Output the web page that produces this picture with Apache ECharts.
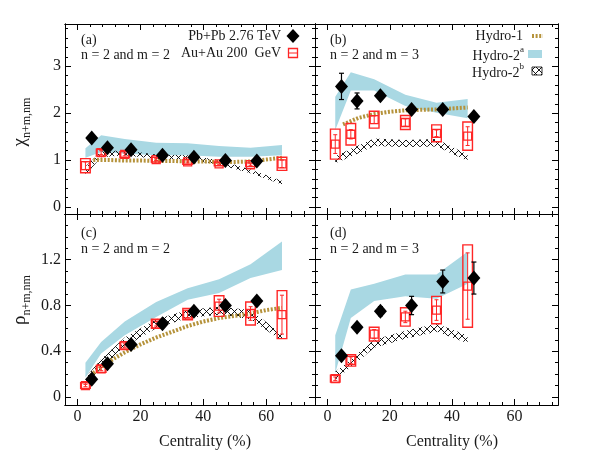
<!DOCTYPE html>
<html><head><meta charset="utf-8">
<script src="https://cdn.jsdelivr.net/npm/echarts@6/dist/echarts.min.js"></script>
<style>html,body{margin:0;padding:0;background:#fff}#c{width:600px;height:465px}</style>
</head><body><div id="c"></div>
<script>
// ---------- tick labels ----------
const xMajor = [0, 20, 40, 60];
const xMinor = [4, 8, 12, 16, 24, 28, 32, 36, 44, 48, 52, 56, 64, 68, 72];
const yMajorTop = [0, 1, 2, 3];
const yMinorTop = [0.2, 0.4, 0.6, 0.8, 1.2, 1.4, 1.6, 1.8, 2.2, 2.4, 2.6, 2.8, 3.2, 3.4, 3.6, 3.8];
const yMajorBot = [0, 0.4, 0.8, 1.2];
const yMinorBot = [0.1, 0.2, 0.3, 0.5, 0.6, 0.7, 0.9, 1.0, 1.1, 1.3, 1.4, 1.5];

// ---------- centralities ----------
const centRed8 = [2.5, 7.5, 15, 25, 35, 45, 55, 65];
const centBlack7 = [4.5, 9.5, 17, 27, 37, 47, 57];
const centRed6 = [2.5, 7.5, 15, 25, 35, 45];
const centBlack6 = [4.5, 9.5, 17, 27, 37, 47];
const hydro1X13 = [5, 10, 15, 20, 25, 30, 35, 40, 45, 50, 55, 60, 65];
const hydro1X9 = [5, 10, 15, 20, 25, 30, 35, 40, 45];

// ---------- panel (a) ----------
const aBlack = [1.47, 1.26, 1.22, 1.10, 1.06, 0.99, 0.98];
const aBlackErr = [0.02, 0.02, 0.02, 0.02, 0.02, 0.02, 0.02];
const aRed = [0.88, 1.16, 1.12, 1.01, 0.96, 0.92, 0.90, 0.92];
const aRedSys = [0.15, 0.07, 0.06, 0.05, 0.05, 0.04, 0.04, 0.14];
const aRedStat = [0.08, 0.04, 0.03, 0.02, 0.02, 0.02, 0.02, 0.08];
const aHydro1 = [1.0, 1.0, 0.99, 0.99, 0.98, 0.98, 0.97, 0.97, 0.96, 0.96, 0.97, 1.01, 1.05];
const aHydro2aLow = [1.05, 1.17, 1.14, 1.10, 1.10, 1.07, 1.07, 1.10];
const aHydro2aHigh = [1.25, 1.53, 1.45, 1.37, 1.36, 1.30, 1.26, 1.32];
const aHydro2bLow = [0.68, 1.06, 1.10, 1.02, 1.01, 0.90, 0.72, 0.48];
const aHydro2bHigh = [0.86, 1.18, 1.21, 1.12, 1.10, 1.00, 0.80, 0.56];

// ---------- panel (b) ----------
const bBlack = [2.57, 2.26, 2.37, 2.08, 2.08, 1.93];
const bBlackErr = [0.28, 0.17, 0.05, 0.05, 0.04, 0.05];
const bRed = [1.34, 1.55, 1.86, 1.80, 1.57, 1.51];
const bRedSys = [0.32, 0.23, 0.18, 0.15, 0.18, 0.30];
const bRedStat = [0.20, 0.10, 0.08, 0.08, 0.07, 0.20];
const bHydro1 = [1.76, 1.90, 1.98, 2.03, 2.06, 2.07, 2.08, 2.10, 2.12];
const bHydro2aLow = [1.64, 2.48, 2.48, 2.15, 2.01, 1.89];
const bHydro2aHigh = [2.35, 2.87, 2.72, 2.39, 2.22, 2.30];
const bHydro2bLow = [0.93, 1.07, 1.30, 1.28, 1.29, 0.98];
const bHydro2bHigh = [1.08, 1.24, 1.46, 1.43, 1.45, 1.12];

// ---------- panel (c) ----------
const cBlack = [0.155, 0.29, 0.46, 0.64, 0.75, 0.80, 0.84];
const cBlackErr = [0.01, 0.01, 0.01, 0.01, 0.01, 0.01, 0.01];
const cRed = [0.10, 0.245, 0.45, 0.64, 0.725, 0.795, 0.73, 0.72];
const cRedSys = [0.025, 0.03, 0.03, 0.04, 0.05, 0.09, 0.10, 0.21];
const cRedStat = [0.01, 0.015, 0.015, 0.02, 0.03, 0.06, 0.06, 0.17];
const cHydro1 = [0.21, 0.31, 0.39, 0.46, 0.52, 0.57, 0.62, 0.66, 0.69, 0.71, 0.73, 0.76, 0.78];
const cHydro2aLow = [0.17, 0.38, 0.54, 0.70, 0.85, 0.91, 1.04, 1.11];
const cHydro2aHigh = [0.30, 0.48, 0.66, 0.83, 0.95, 1.03, 1.16, 1.36];
const cHydro2bLow = [0.11, 0.25, 0.44, 0.60, 0.69, 0.72, 0.68, 0.49];
const cHydro2bHigh = [0.17, 0.33, 0.52, 0.68, 0.76, 0.79, 0.76, 0.55];

// ---------- panel (d) ----------
const dBlack = [0.36, 0.61, 0.75, 0.80, 1.01, 1.04];
const dBlackErr = [0.01, 0.01, 0.04, 0.08, 0.10, 0.14];
const dRed = [0.16, 0.32, 0.55, 0.70, 0.76, 0.97];
const dRedSys = [0.03, 0.05, 0.06, 0.08, 0.12, 0.36];
const dRedStat = [0.015, 0.03, 0.04, 0.05, 0.09, 0.29];
const dHydro2aLow = [0.21, 0.69, 0.84, 0.88, 0.86, 0.99];
const dHydro2aHigh = [0.54, 0.94, 0.99, 1.07, 1.07, 1.27];
const dHydro2bLow = [0.15, 0.26, 0.43, 0.51, 0.57, 0.47];
const dHydro2bHigh = [0.22, 0.33, 0.50, 0.58, 0.64, 0.54];

// ---------- styling ----------
const SERIF = '"Liberation Serif","DejaVu Serif",serif';
const RED = '#ff2626';
const GOLD = '#b5923a';
const BLUE = '#a9d8e3';
const TXT = '#1a1a1a';

// hatch pattern
const pc = document.createElement('canvas');
pc.width = 7; pc.height = 7;
const pg = pc.getContext('2d');
pg.strokeStyle = '#000'; pg.lineWidth = 0.9;
pg.beginPath(); pg.moveTo(0, 0); pg.lineTo(7, 7); pg.moveTo(7, 0); pg.lineTo(0, 7); pg.stroke();
const HATCH = { image: pc, repeat: 'repeat' };

const panels = [
  { grid: { left: 65, top: 24, width: 250, height: 190 }, xr: [-4, 75.5], yr: [-0.15, 3.9], yMaj: yMajorTop, yMin: yMinorTop, xLab: false, yLab: true },
  { grid: { left: 315, top: 24, width: 243, height: 190 }, xr: [-4, 74], yr: [-0.15, 3.9], yMaj: yMajorTop, yMin: yMinorTop, xLab: false, yLab: false },
  { grid: { left: 65, top: 214, width: 250, height: 191 }, xr: [-4, 75.5], yr: [-0.07, 1.6], yMaj: yMajorBot, yMin: yMinorBot, xLab: true, yLab: true },
  { grid: { left: 315, top: 214, width: 243, height: 191 }, xr: [-4, 74], yr: [-0.07, 1.6], yMaj: yMajorBot, yMin: yMinorBot, xLab: true, yLab: false }
];

function axis(gi, pos, ticks, len, labels, range) {
  return {
    type: 'value', gridIndex: gi, position: pos, min: range[0], max: range[1],
    axisLine: { show: true, onZero: false, lineStyle: { color: '#000', width: 1 } },
    axisTick: { show: true, inside: true, length: len, customValues: ticks, lineStyle: { color: '#000', width: 1 } },
    axisLabel: { show: labels, customValues: ticks, margin: 4, fontSize: 16, color: TXT, fontFamily: SERIF },
    splitLine: { show: false }, minorTick: { show: false }
  };
}

const xAxes = [], yAxes = [];
panels.forEach((p, i) => { xAxes.push(axis(i, 'bottom', xMajor, 6, p.xLab, p.xr)); yAxes.push(axis(i, 'left', p.yMaj, 6, p.yLab, p.yr)); });
panels.forEach((p, i) => {
  xAxes.push(axis(i, 'bottom', xMinor, 3, false, p.xr));
  xAxes.push(axis(i, 'top', xMajor, 6, false, p.xr));
  xAxes.push(axis(i, 'top', xMinor, 3, false, p.xr));
  yAxes.push(axis(i, 'left', p.yMin, 3, false, p.yr));
  yAxes.push(axis(i, 'right', p.yMaj, 6, false, p.yr));
  yAxes.push(axis(i, 'right', p.yMin, 3, false, p.yr));
});

function band(gi, xs, lo, hi, fill, z) {
  return {
    type: 'custom', xAxisIndex: gi, yAxisIndex: gi, z: z, silent: true, clip: false,
    data: [[xs[0], lo[0]]],
    renderItem: function (params, api) {
      const pts = [];
      for (let k = 0; k < xs.length; k++) pts.push(api.coord([xs[k], hi[k]]));
      for (let k = xs.length - 1; k >= 0; k--) pts.push(api.coord([xs[k], lo[k]]));
      return { type: 'polygon', shape: { points: pts }, style: { fill: fill, stroke: null } };
    }
  };
}

function goldLine(gi, xs, ys) {
  return {
    type: 'line', xAxisIndex: gi, yAxisIndex: gi, z: 4, silent: true, showSymbol: false, symbol: 'none',
    data: xs.map((x, k) => [x, ys[k]]),
    lineStyle: { color: GOLD, width: 4, type: [2, 1.6], cap: 'butt', opacity: 1 }
  };
}

function redPoints(gi, xs, ys, sys, stat) {
  return [{
    type: 'custom', xAxisIndex: gi, yAxisIndex: gi, z: 5, silent: true,
    data: xs.map((x, k) => [x, ys[k], sys[k], stat[k]]),
    renderItem: function (params, api) {
      const x = api.value(0), y = api.value(1), s = api.value(2), e = api.value(3);
      const t = api.coord([x, y + s]), b = api.coord([x, y - s]);
      const t2 = api.coord([x, y + e]), b2 = api.coord([x, y - e]);
      const hw = 4.8, cw = 2;
      return {
        type: 'group', children: [
          { type: 'rect', shape: { x: t[0] - hw, y: t[1], width: 2 * hw, height: b[1] - t[1] }, style: { fill: null, stroke: RED, lineWidth: 1.4 } },
          { type: 'line', shape: { x1: t2[0], y1: t2[1], x2: b2[0], y2: b2[1] }, style: { stroke: RED, lineWidth: 1 } },
          { type: 'line', shape: { x1: t2[0] - cw, y1: t2[1], x2: t2[0] + cw, y2: t2[1] }, style: { stroke: RED, lineWidth: 1 } },
          { type: 'line', shape: { x1: b2[0] - cw, y1: b2[1], x2: b2[0] + cw, y2: b2[1] }, style: { stroke: RED, lineWidth: 1 } }
        ]
      };
    }
  }, {
    type: 'scatter', xAxisIndex: gi, yAxisIndex: gi, z: 6, silent: true,
    data: xs.map((x, k) => [x, ys[k]]), symbol: 'rect', symbolSize: 8,
    itemStyle: { color: 'rgba(0,0,0,0)', borderColor: RED, borderWidth: 1.3, opacity: 1 }
  }];
}

function blackPoints(gi, xs, ys, err) {
  return [{
    type: 'custom', xAxisIndex: gi, yAxisIndex: gi, z: 7, silent: true,
    data: xs.map((x, k) => [x, ys[k], err[k]]),
    renderItem: function (params, api) {
      const x = api.value(0), y = api.value(1), e = api.value(2);
      const t = api.coord([x, y + e]), b = api.coord([x, y - e]);
      const cw = 2.5;
      return {
        type: 'group', children: [
          { type: 'line', shape: { x1: t[0], y1: t[1], x2: b[0], y2: b[1] }, style: { stroke: '#000', lineWidth: 1.2 } },
          { type: 'line', shape: { x1: t[0] - cw, y1: t[1], x2: t[0] + cw, y2: t[1] }, style: { stroke: '#000', lineWidth: 1.2 } },
          { type: 'line', shape: { x1: b[0] - cw, y1: b[1], x2: b[0] + cw, y2: b[1] }, style: { stroke: '#000', lineWidth: 1.2 } }
        ]
      };
    }
  }, {
    type: 'scatter', xAxisIndex: gi, yAxisIndex: gi, z: 8, silent: true,
    data: xs.map((x, k) => [x, ys[k]]), symbol: 'diamond', symbolSize: [13, 15],
    itemStyle: { color: '#000', opacity: 1, borderWidth: 0 }
  }];
}

const series = [
  band(0, centRed8, aHydro2aLow, aHydro2aHigh, BLUE, 1),
  band(0, centRed8, aHydro2bLow, aHydro2bHigh, HATCH, 2),
  goldLine(0, hydro1X13, aHydro1),
  ...redPoints(0, centRed8, aRed, aRedSys, aRedStat),
  ...blackPoints(0, centBlack7, aBlack, aBlackErr),

  band(1, centRed6, bHydro2aLow, bHydro2aHigh, BLUE, 1),
  band(1, centRed6, bHydro2bLow, bHydro2bHigh, HATCH, 2),
  goldLine(1, hydro1X9, bHydro1),
  ...redPoints(1, centRed6, bRed, bRedSys, bRedStat),
  ...blackPoints(1, centBlack6, bBlack, bBlackErr),

  band(2, centRed8, cHydro2aLow, cHydro2aHigh, BLUE, 1),
  band(2, centRed8, cHydro2bLow, cHydro2bHigh, HATCH, 2),
  goldLine(2, hydro1X13, cHydro1),
  ...redPoints(2, centRed8, cRed, cRedSys, cRedStat),
  ...blackPoints(2, centBlack7, cBlack, cBlackErr),

  band(3, centRed6, dHydro2aLow, dHydro2aHigh, BLUE, 1),
  band(3, centRed6, dHydro2bLow, dHydro2bHigh, HATCH, 2),
  ...redPoints(3, centRed6, dRed, dRedSys, dRedStat),
  ...blackPoints(3, centBlack6, dBlack, dBlackErr)
];

function txt(x, y, s, size, align, extra) {
  return Object.assign({ type: 'text', x: x, y: y, z: 20, silent: true,
    style: { text: s, fontSize: size, fontFamily: SERIF, fill: TXT, align: align || 'left', verticalAlign: 'middle' } }, extra || {});
}

const graphic = [
  txt(81, 40, '(a)', 14), txt(81, 55, 'n = 2 and m = 2', 14),
  txt(330, 40, '(b)', 14), txt(330, 55, 'n = 2 and m = 3', 14),
  txt(81, 233, '(c)', 14), txt(81, 249, 'n = 2 and m = 2', 14),
  txt(330, 233, '(d)', 14), txt(330, 249, 'n = 2 and m = 3', 14),
  // legend left
  txt(281, 36, 'Pb+Pb 2.76 TeV', 14, 'right'),
  txt(281, 53, 'Au+Au 200  GeV', 14, 'right'),
  { type: 'polygon', z: 20, silent: true, shape: { points: [[293, 29], [299.5, 36], [293, 43], [286.5, 36]] }, style: { fill: '#000' } },
  { type: 'rect', z: 20, silent: true, shape: { x: 288.5, y: 48.5, width: 9, height: 9 }, style: { fill: null, stroke: RED, lineWidth: 1.3 } },
  { type: 'line', z: 20, silent: true, shape: { x1: 288.5, y1: 53, x2: 297.5, y2: 53 }, style: { stroke: RED, lineWidth: 1 } },
  // legend right
  txt(523, 36, 'Hydro-1', 14, 'right'),
  txt(524, 54, '{m|Hydro-2}{s|a}', 14, 'right', {}),
  txt(524, 71, '{m|Hydro-2}{s|b}', 14, 'right', {}),
  { type: 'line', z: 20, silent: true, shape: { x1: 532, y1: 36, x2: 543, y2: 36 }, style: { stroke: GOLD, lineWidth: 4, lineDash: [2, 1.6] } },
  { type: 'rect', z: 20, silent: true, shape: { x: 528, y: 50, width: 14, height: 8 }, style: { fill: BLUE } },
  { type: 'rect', z: 20, silent: true, shape: { x: 532, y: 67, width: 10, height: 8 }, style: { fill: HATCH, stroke: '#000', lineWidth: 0.8 } },
  // axis titles
  txt(205, 442, 'Centrality (%)', 16, 'center'),
  txt(452, 442, 'Centrality (%)', 16, 'center'),
  { type: 'text', x: 22, y: 122, rotation: Math.PI / 2, z: 20, silent: true,
    style: { text: '{a|χ}{b|n+m,nm}', align: 'center', verticalAlign: 'middle', fill: TXT,
      rich: { a: { fontSize: 19, fontFamily: SERIF, fill: TXT, verticalAlign: 'top', lineHeight: 22 },
              b: { fontSize: 12, fontFamily: SERIF, fill: TXT, verticalAlign: 'bottom', lineHeight: 22 } } } },
  { type: 'text', x: 22, y: 300, rotation: Math.PI / 2, z: 20, silent: true,
    style: { text: '{a|ρ}{b|n+m,nm}', align: 'center', verticalAlign: 'middle', fill: TXT,
      rich: { a: { fontSize: 19, fontFamily: SERIF, fill: TXT, verticalAlign: 'top', lineHeight: 22 },
              b: { fontSize: 12, fontFamily: SERIF, fill: TXT, verticalAlign: 'bottom', lineHeight: 22 } } } }
];
// rich styles for superscripts in legend
[graphic[14], graphic[15]].forEach(g => {
  g.style.rich = { m: { fontSize: 14, fontFamily: SERIF, fill: TXT, verticalAlign: 'bottom', lineHeight: 18 },
                   s: { fontSize: 9, fontFamily: SERIF, fill: TXT, verticalAlign: 'top', lineHeight: 18 } };
});

const chart = echarts.init(document.getElementById('c'), null, { renderer: 'canvas' });
chart.setOption({
  backgroundColor: '#fff',
  animation: false,
  grid: panels.map(p => Object.assign({ containLabel: false, outerBoundsMode: 'none' }, p.grid)),
  xAxis: xAxes,
  yAxis: yAxes,
  series: series,
  graphic: graphic
});
</script>
</body></html>
